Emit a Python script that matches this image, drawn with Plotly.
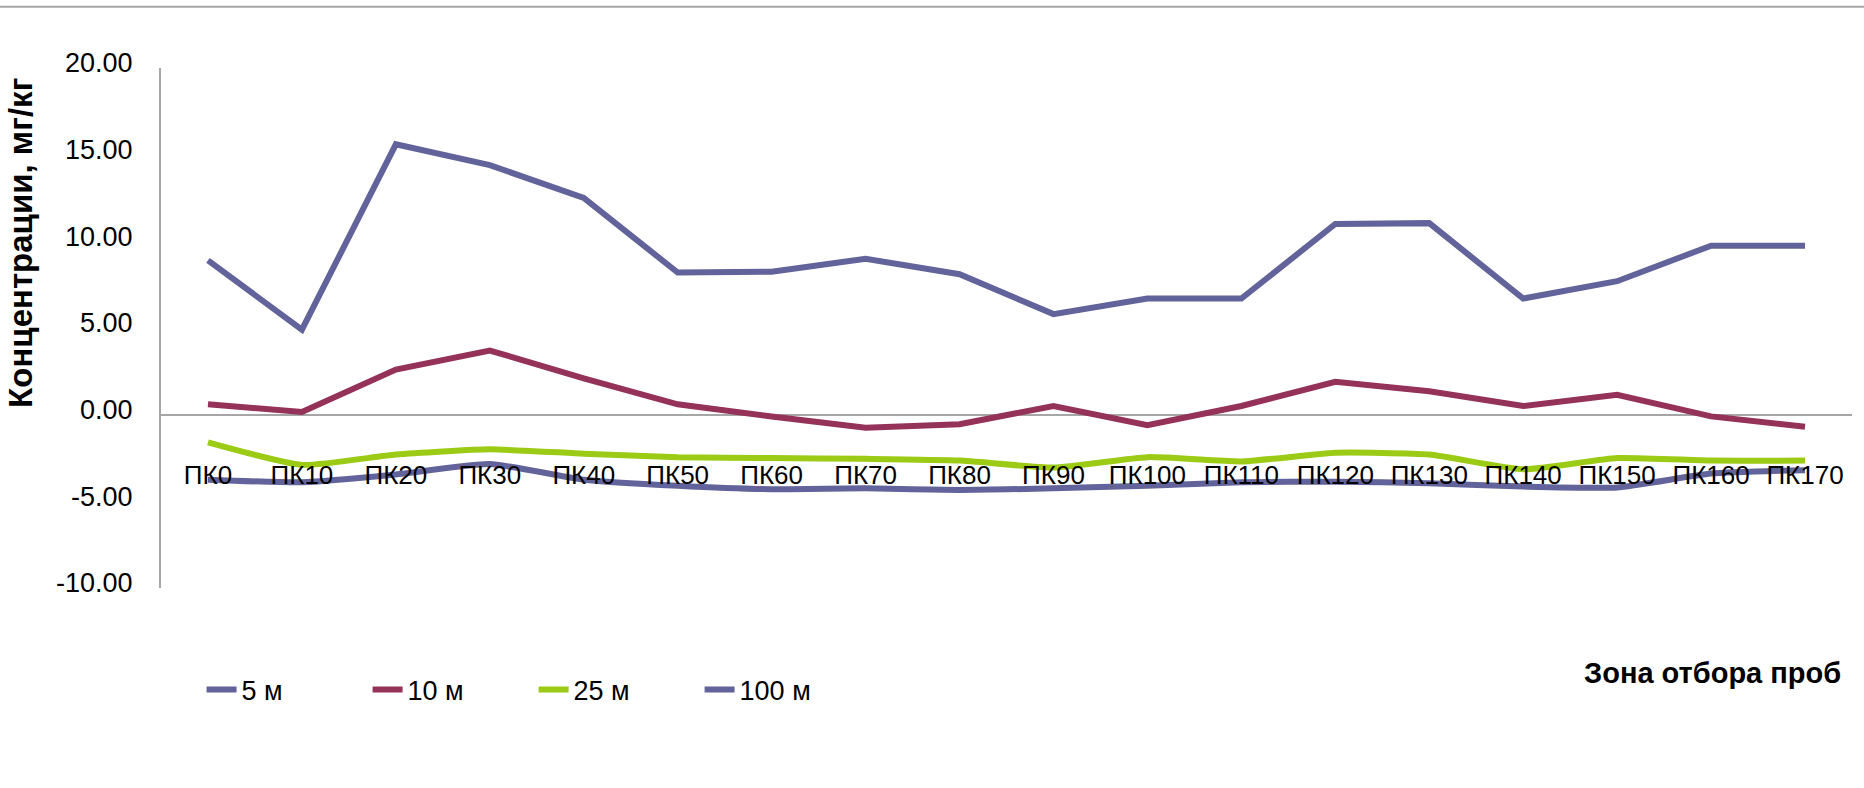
import plotly.graph_objects as go

categories = ['ПК0', 'ПК10', 'ПК20', 'ПК30', 'ПК40', 'ПК50', 'ПК60', 'ПК70', 'ПК80',
              'ПК90', 'ПК100', 'ПК110', 'ПК120', 'ПК130', 'ПК140', 'ПК150', 'ПК160', 'ПК170']
s5 = [8.9, 4.9, 15.6, 14.4, 12.5, 8.2, 8.25, 9.0, 8.1, 5.8, 6.7, 6.7, 11.0, 11.05, 6.7, 7.7, 9.75, 9.75]
s10 = [0.6, 0.15, 2.6, 3.7, 2.1, 0.6, -0.1, -0.75, -0.55, 0.5, -0.6, 0.5, 1.9, 1.35, 0.5, 1.15, -0.1, -0.7]
s25 = [-1.6, -2.9, -2.3, -2.0, -2.25, -2.45, -2.5, -2.55, -2.65, -3.05, -2.45, -2.7, -2.2, -2.3, -3.15, -2.5, -2.65, -2.65]
s100 = [-3.75, -3.9, -3.45, -2.85, -3.75, -4.1, -4.3, -4.25, -4.35, -4.25, -4.1, -3.9, -3.87, -3.95, -4.15, -4.2, -3.4, -3.2]
series_names = ['5 м', '10 м', '25 м', '100 м']
y_ticks = [-10, -5, 0, 5, 10, 15, 20]
y_ticktext = [f'{v:.2f}' for v in y_ticks]

BLUE = '#62639B'
MAROON = '#953259'
GREEN = '#9BCB14'
FONT = 'Liberation Sans, Arial, sans-serif'

fig = go.Figure()
for name, vals, col, shape in [
    (series_names[0], s5, BLUE, 'linear'),
    (series_names[1], s10, MAROON, 'linear'),
    (series_names[2], s25, GREEN, 'spline'),
    (series_names[3], s100, BLUE, 'spline'),
]:
    fig.add_trace(go.Scatter(
        x=categories, y=vals, name=name, mode='lines',
        line=dict(color=col, width=6, shape=shape, smoothing=0.5),
    ))

fig.update_layout(
    width=1864, height=788,
    margin=dict(l=161, r=12, t=68, b=200),
    paper_bgcolor='white', plot_bgcolor='white',
    showlegend=True,
    legend=dict(orientation='h', x=0.024, y=-0.196, xanchor='left', yanchor='middle',
                font=dict(family=FONT, size=27, color='black'),
                entrywidth=121, tracegroupgap=0),
    xaxis=dict(type='category', range=[-0.5, 17.5], showline=False, showgrid=False,
               zeroline=False, ticks='', anchor='free', position=0.252,
               tickfont=dict(family=FONT, size=26, color='black')),
    yaxis=dict(range=[-10, 20], tickvals=y_ticks, ticktext=y_ticktext, showgrid=False,
               showline=True, linecolor='#A6A6A6', linewidth=2,
               zeroline=True, zerolinecolor='#A6A6A6', zerolinewidth=2,
               ticks='', ticklabelstandoff=21, ticklabelshift=-5,
               tickfont=dict(family=FONT, size=27, color='black')),
    annotations=[
        dict(text='Концентрации, мг/кг', textangle=-90, xref='paper', yref='paper',
             x=-0.083, y=0.663, xanchor='center', yanchor='middle', showarrow=False,
             font=dict(family=FONT, size=33, color='black', weight='bold')),
        dict(text='<b>Зона отбора проб</b>', xref='paper', yref='paper',
             x=0.9947, y=-0.163, xanchor='right', yanchor='middle', showarrow=False,
             font=dict(family=FONT, size=29, color='black')),
    ],
    shapes=[
        dict(type='line', xref='paper', yref='paper', x0=-0.1, x1=1.01, y0=1.118, y1=1.118,
             line=dict(color='#A6A6A6', width=2)),
    ],
)

fig.write_html('out.html')
